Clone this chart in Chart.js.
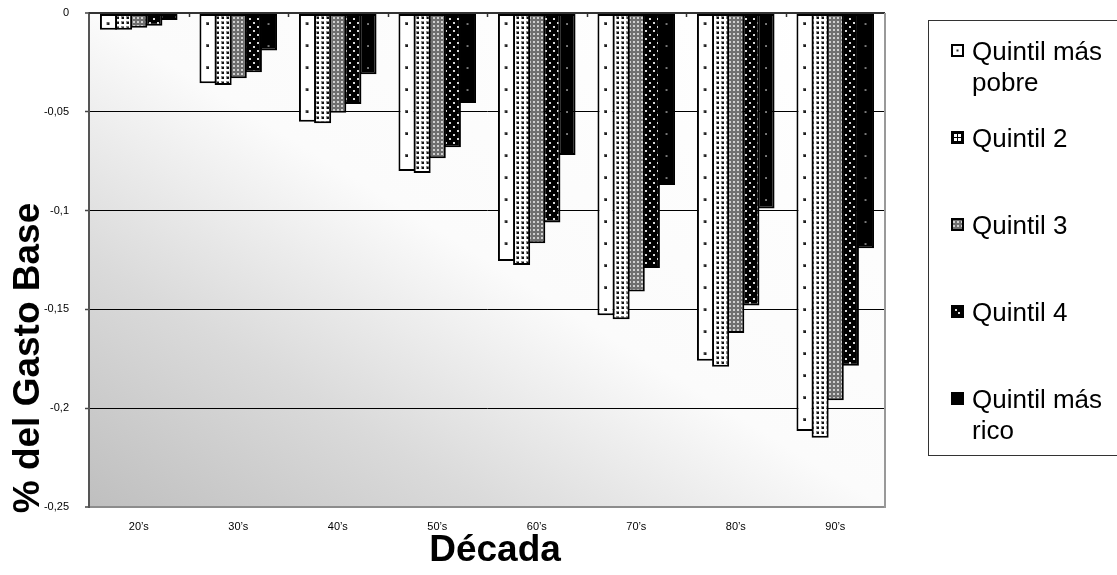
<!DOCTYPE html>
<html>
<head>
<meta charset="utf-8">
<script src="https://cdn.jsdelivr.net/npm/chart.js@4.4.1/dist/chart.umd.min.js"></script>
<style>
  html, body { margin: 0; padding: 0; background: #ffffff; overflow: hidden; }
  #wrap { position: relative; width: 1117px; height: 575px; }
</style>
</head>
<body>
<div id="wrap"><canvas id="c" width="1117" height="575"></canvas></div>
<script>
// Decades on the category axis
const decades = ["20’s", "30’s", "40’s", "50’s", "60’s", "70’s", "80’s", "90’s"];

// Series names, poorest to richest quintile
const seriesNames = ["Quintil más pobre", "Quintil 2", "Quintil 3", "Quintil 4", "Quintil más rico"];

// Change as a share of base spending, per decade
const quintilPobre = [-0.0085, -0.0355, -0.0550, -0.0800, -0.1255, -0.1530, -0.1760, -0.2115];
const quintil2     = [-0.0085, -0.0365, -0.0558, -0.0810, -0.1275, -0.1550, -0.1790, -0.2150];
const quintil3     = [-0.0075, -0.0330, -0.0505, -0.0735, -0.1165, -0.1410, -0.1620, -0.1960];
const quintil4     = [-0.0065, -0.0300, -0.0460, -0.0680, -0.1060, -0.1290, -0.1480, -0.1785];
const quintilRico  = [-0.0035, -0.0190, -0.0310, -0.0455, -0.0718, -0.0870, -0.0990, -0.1190];

// Value-axis ticks and their printed labels
const yTicks = [-0.25, -0.2, -0.15, -0.1, -0.05, 0];
const yTickLabels = ["-0,25", "-0,2", "-0,15", "-0,1", "-0,05", "0"];

const xTitle = "Década";
const yTitle = "% del Gasto Base";

const FONT = "'Liberation Sans', Arial, Helvetica, sans-serif";

// ---- fill patterns -------------------------------------------------------
function tile(w, h, paint) {
  const c = document.createElement('canvas');
  c.width = w; c.height = h;
  paint(c.getContext('2d'), w, h);
  return c;
}
const patCtx = document.getElementById('c').getContext('2d');

// sparse dots, one column per bar (re-aligned to the bars before drawing)
const SPARSE_W = 100, SPARSE_H = 22;
const sparseLight = patCtx.createPattern(tile(SPARSE_W, SPARSE_H, (g, w, h) => {
  g.fillStyle = '#ffffff'; g.fillRect(0, 0, w, h);
  g.fillStyle = '#555555'; g.fillRect(48, 9, 3, 3);
  g.fillStyle = '#1a1a1a'; g.fillRect(49, 10, 2, 2);
}), 'repeat');
const sparseDark = patCtx.createPattern(tile(SPARSE_W, SPARSE_H, (g, w, h) => {
  g.fillStyle = '#000000'; g.fillRect(0, 0, w, h);
  g.fillStyle = '#7a7a7a'; g.fillRect(49, 10, 2, 2);
}), 'repeat');
// dense dark dots on white
const denseDots = patCtx.createPattern(tile(5, 5, (g, w, h) => {
  g.fillStyle = '#ffffff'; g.fillRect(0, 0, w, h);
  g.fillStyle = '#8a8a8a'; g.fillRect(1, 1, 3, 3);
  g.fillStyle = '#111111'; g.fillRect(2, 2, 2, 2);
}), 'repeat');
// fine grey checker
const greyChecker = patCtx.createPattern(tile(4, 4, (g, w, h) => {
  g.fillStyle = '#6f6f6f'; g.fillRect(0, 0, w, h);
  g.fillStyle = '#cfcfcf'; g.fillRect(1, 1, 2, 2);
}), 'repeat');
// light dots on black, staggered
const darkDots = patCtx.createPattern(tile(8, 8, (g, w, h) => {
  g.fillStyle = '#000000'; g.fillRect(0, 0, w, h);
  g.fillStyle = '#d8d8d8'; g.fillRect(1, 2, 2, 2); g.fillRect(5, 6, 2, 2);
}), 'repeat');

const fills = [sparseLight, denseDots, greyChecker, darkDots, sparseDark];
const alignedFills = [0, 4];   // datasets whose dots sit centred in each bar

// legend swatches (small boxes with a black frame)
function drawSwatch(ctx, i, x, y, s) {
  ctx.save();
  ctx.fillStyle = ['#ffffff', '#ffffff', '#8a8a8a', '#000000', '#000000'][i];
  ctx.fillRect(x, y, s, s);
  ctx.fillStyle = i === 3 ? '#dddddd' : '#222222';
  if (i === 0) ctx.fillRect(x + s / 2 - 1, y + s / 2 - 1, 2, 2);
  if (i === 1) { ctx.fillStyle = '#000'; ctx.fillRect(x, y, s, s); ctx.fillStyle = '#fff';
    ctx.fillRect(x + 2, y + 2, 3, 3); ctx.fillRect(x + s - 5, y + 2, 3, 3);
    ctx.fillRect(x + 2, y + s - 5, 3, 3); ctx.fillRect(x + s - 5, y + s - 5, 3, 3); }
  if (i === 2) { ctx.fillStyle = greyChecker; ctx.fillRect(x, y, s, s); }
  if (i === 3) { ctx.fillRect(x + 3, y + 3, 2, 2); ctx.fillRect(x + s - 5, y + s - 5, 2, 2); }
  ctx.strokeStyle = '#000'; ctx.lineWidth = 2;
  ctx.strokeRect(x, y, s, s);
  ctx.restore();
}

function wrapWords(ctx, text, maxW) {
  const words = text.split(' ');
  const lines = [];
  let cur = '';
  words.forEach(w => {
    const t = cur ? cur + ' ' + w : w;
    if (cur && ctx.measureText(t).width > maxW) { lines.push(cur); cur = w; } else cur = t;
  });
  if (cur) lines.push(cur);
  return lines;
}

// ---- drawing helpers -----------------------------------------------------
const decor = {
  id: 'decor',
  beforeDraw(chart) {
    const { ctx, chartArea: a } = chart;
    const W = a.right - a.left, H = a.bottom - a.top;
    const k = 2 * W * H / (W * W + H * H);
    const g = ctx.createLinearGradient(a.left, a.bottom, a.left + k * H, a.bottom - k * W);
    g.addColorStop(0, '#bfbfbf');
    g.addColorStop(0.25, '#dadada');
    g.addColorStop(0.5, '#fbfbfb');
    g.addColorStop(1, '#ffffff');
    ctx.save();
    ctx.fillStyle = g;
    ctx.fillRect(a.left, a.top, W, H);
    ctx.restore();
  },
  beforeDatasetsDraw(chart) {
    const xs = chart.scales.x;
    const pitch = xs.getPixelForValue(1) - xs.getPixelForValue(0);
    alignedFills.forEach(d => {
      const el = chart.getDatasetMeta(d).data[0];
      fills[d].setTransform(new DOMMatrix()
        .translate(el.x - pitch / 2, chart.chartArea.top)
        .scale(pitch / SPARSE_W, 1));
    });
  },
  afterDraw(chart) {
    const { ctx, chartArea: a } = chart;
    const xs = chart.scales.x, ys = chart.scales.y;
    const y0 = ys.getPixelForValue(0);
    ctx.save();
    // zero line over the bars
    ctx.strokeStyle = '#333333'; ctx.lineWidth = 2;
    ctx.beginPath(); ctx.moveTo(a.left, y0); ctx.lineTo(a.right, y0); ctx.stroke();
    // category tick marks on the zero line
    ctx.lineWidth = 1.5;
    for (let i = 1; i < decades.length; i++) {
      const x = Math.round((xs.getPixelForValue(i - 1) + xs.getPixelForValue(i)) / 2) + 0.5;
      ctx.beginPath(); ctx.moveTo(x, y0); ctx.lineTo(x, y0 + 4); ctx.stroke();
    }
    // right edge of the plot area
    ctx.strokeStyle = '#999999'; ctx.lineWidth = 2;
    ctx.beginPath(); ctx.moveTo(a.right, y0); ctx.lineTo(a.right, a.bottom + 1); ctx.stroke();

    // axis titles
    ctx.fillStyle = '#000';
    ctx.font = 'bold 37px ' + FONT;
    ctx.textAlign = 'center';
    ctx.textBaseline = 'alphabetic';
    ctx.fillText(xTitle, (a.left + a.right) / 2 + 8, 561);
    ctx.save();
    ctx.translate(39, 358);
    ctx.rotate(-Math.PI / 2);
    ctx.fillText(yTitle, 0, 0);
    ctx.restore();

    // legend
    const lx = 928, ly = 20, lh = 435;
    ctx.strokeStyle = '#333333'; ctx.lineWidth = 1;
    ctx.strokeRect(lx + 0.5, ly + 0.5, 300, lh);
    ctx.font = '26px ' + FONT;
    ctx.textAlign = 'left';
    chart.data.datasets.forEach((ds, i) => {
      const cy = 51 + i * 87;
      drawSwatch(ctx, i, 952, cy - 6, 11);
      ctx.fillStyle = '#000';
      const lines = wrapWords(ctx, ds.label, 1117 - 972 - 2);
      lines.forEach((ln, j) => ctx.fillText(ln, 972, cy + 9 + j * 31));
    });
    ctx.restore();
  }
};

const series = [quintilPobre, quintil2, quintil3, quintil4, quintilRico];

new Chart(document.getElementById('c'), {
  type: 'bar',
  data: {
    labels: decades,
    datasets: series.map((vals, i) => ({
      label: seriesNames[i],
      data: vals,
      backgroundColor: fills[i],
      borderColor: '#000000',
      borderWidth: 2,
      borderSkipped: false,
      categoryPercentage: 0.76,
      barPercentage: 1.13
    }))
  },
  options: {
    responsive: false,
    animation: false,
    events: [],
    layout: { padding: { left: 0, top: 13, right: 232, bottom: 0 } },
    plugins: { legend: { display: false }, tooltip: { enabled: false } },
    scales: {
      x: {
        grid: { display: false, drawTicks: false },
        border: { display: true, color: '#8c8c8c', width: 2 },
        ticks: { color: '#000', font: { family: FONT, size: 11 }, padding: 13, maxRotation: 0 },
        afterFit(s) { s.height = 68; }
      },
      y: {
        min: -0.25, max: 0,
        afterBuildTicks(s) { s.ticks = yTicks.map(v => ({ value: v })); },
        grid: {
          color: c => c.tick.value === 0 ? '#333333' : (c.tick.value <= -0.25 ? '#8c8c8c' : '#000000'),
          lineWidth: c => (c.tick.value === 0 || c.tick.value <= -0.25) ? 2 : 1,
          drawTicks: true, tickLength: 4, tickColor: '#444444', tickWidth: 1.5
        },
        border: { display: true, color: '#555555', width: 2 },
        ticks: {
          color: '#000', font: { family: FONT, size: 11 }, padding: 16,
          callback: (v, i) => yTickLabels[i]
        },
        afterFit(s) { s.width = 89; s.paddingTop = 0; s.paddingBottom = 0; }
      }
    }
  },
  plugins: [decor]
});
</script>
</body>
</html>
